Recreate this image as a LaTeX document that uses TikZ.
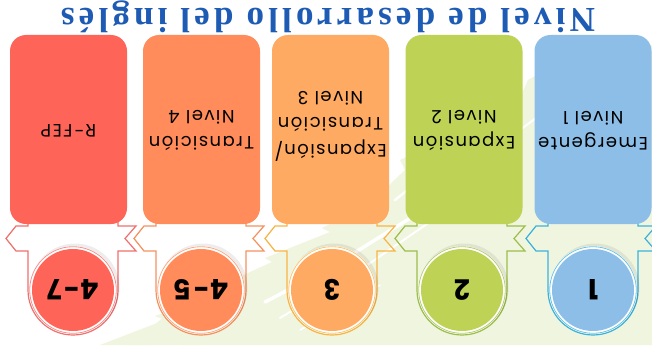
\documentclass[tikz,border=0pt]{standalone}
\usepackage{fontspec}
\setmainfont{Poppins}
\newfontfamily\titlefont{Liberation Serif}[LetterSpace=12]
\newfontfamily\boxfont{Poppins}[LetterSpace=8]
\newfontfamily\numfont{Poppins}[LetterSpace=4]
\definecolor{titleblue}{HTML}{1D5BB4}
\definecolor{bgg}{HTML}{F0F5DF}
\definecolor{fred}{HTML}{FF6459}
\definecolor{lred}{HTML}{F0706E}
\definecolor{forange}{HTML}{FF8C5A}
\definecolor{lorange}{HTML}{F5915F}
\definecolor{fyel}{HTML}{FFAA62}
\definecolor{lyel}{HTML}{F8B445}
\definecolor{fgreen}{HTML}{BED255}
\definecolor{lgreen}{HTML}{9DBE4A}
\definecolor{fblue}{HTML}{8CBEE8}
\definecolor{lblue}{HTML}{3BB2DC}
\tikzset{
  boxsty/.style={rounded corners=16pt, minimum width=117pt, minimum height=189pt, inner sep=0pt},
  boxtext/.style={rotate=180, align=center, font=\boxfont\fontsize{18}{26.5}\selectfont, text=black},
  circsty/.style={circle, minimum size=82pt, inner sep=0pt, font=\numfont\bfseries\fontsize{28}{28}\selectfont, text=black, rotate=180},
  outline/.style={line width=1.2pt, line join=miter},
}
\newcommand\levelunit[9]{%
  \draw[outline, #6] ({#2-45},221) -- ({#2-45},226) -- ({#2-57},226) -- ({#2-67},238.5) -- ({#2-57},251) -- ({#2-45},251) -- ({#2-45},290)
    arc[start angle=180, end angle=0, radius=45] -- ({#2+45},251) -- ({#2+63},251) -- ({#2+52},238.5) -- ({#2+63},226) -- ({#2+45},226) -- ({#2+45},221);
  \node (#1box) [boxsty, fill=#5] at ({(#3+#4)/2},129.5) {};
  \node (#1txt) [boxtext] at ({(#3+#4)/2},#7) {#8};
  \fill[black, opacity=0.07] ({#2+2},288) circle (44.5);
  \fill[white] (#2,290) circle (44);
  \draw[#6!75!white, line width=0.8pt] (#2,290) circle (43.3);
  \node (#1circ) [circsty, fill=#5] at (#2,290) {#9};
}
\begin{document}
\begin{tikzpicture}[x=1pt, y=-1pt]
\useasboundingbox (0,0) rectangle (652,345);
\fill[white] (0,0) rectangle (652,345);
% background brush
\fill[bgg] (100,345) -- (165,320) -- (155,316) -- (235,288) -- (226,283) -- (272,262) -- (265,258) -- (330,232) -- (322,228) -- (390,195)
  -- (384,190) -- (405,170) -- (400,160) -- (440,140) -- (470,118) -- (520,98) -- (528,80) -- (560,62) -- (600,50) -- (652,45) -- (652,345) -- cycle;
\fill[bgg] (130,345) -- (230,262) -- (238,265) -- (150,345) -- cycle;
\fill[bgg] (180,345) -- (260,290) -- (262,296) -- (200,345) -- cycle;
\draw[white, line width=3.5pt, line cap=round] (265,302) -- (330,268) -- (420,212);
\draw[white, line width=2pt, line cap=round] (280,318) -- (360,270) -- (440,215);
\draw[white, line width=1.5pt, line cap=round] (300,330) -- (380,285);
\draw[white, line width=2.5pt, line cap=round] (395,200) -- (420,180) -- (460,160);
\draw[white, line width=2pt, line cap=round] (520,130) -- (540,115);
\node (title) [rotate=180, font=\titlefont\bfseries\fontsize{35}{40}\selectfont, text=titleblue] at (328,17) {Nivel de desarrollo del inglés};
\levelunit{rfep}{73}{10}{127}{fred}{lred}{130.5}{R-FEP}{4-7}
\levelunit{tran}{201}{143}{260}{forange}{lorange}{130.5}{Transición\\Nivel 4}{4-5}
\levelunit{expt}{332}{272}{389}{fyel}{lyel}{126}{Expansión/\\Transición\\Nivel 3}{3}
\levelunit{expa}{462}{406}{522}{fgreen}{lgreen}{130.5}{Expansión\\Nivel 2}{2}
\levelunit{emer}{593}{535}{651}{fblue}{lblue}{130.5}{Emergente\\Nivel 1}{1}
\end{tikzpicture}
\end{document}
